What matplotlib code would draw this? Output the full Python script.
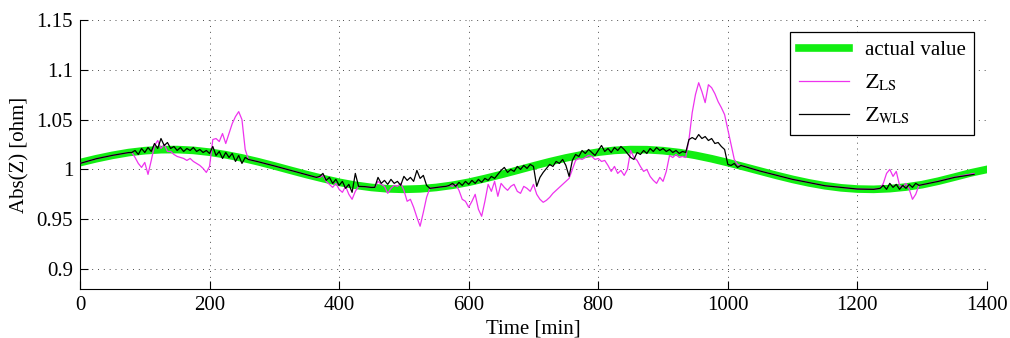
import matplotlib
matplotlib.use("Agg")
import matplotlib.pyplot as plt
import numpy as np

plt.rcParams['font.family'] = ['Liberation Serif', 'DejaVu Serif']
plt.rcParams['mathtext.fontset'] = 'stix'

# true impedance magnitude
t_actual = np.arange(0, 1425, 25)
z_actual = [1.0068, 1.0107, 1.0141, 1.0169, 1.0188, 1.0198, 1.0199, 1.0191, 1.0173, 1.0147,
            1.0115, 1.0077, 1.0035, 0.9991, 0.9948, 0.9908, 0.9871, 0.9841, 0.9819, 0.9805,
            0.9800, 0.9805, 0.9819, 0.9841, 0.9871, 0.9908, 0.9948, 0.9991, 1.0035, 1.0077,
            1.0115, 1.0147, 1.0173, 1.0191, 1.0199, 1.0198, 1.0188, 1.0169, 1.0141, 1.0107,
            1.0068, 1.0026, 0.9983, 0.9940, 0.9900, 0.9865, 0.9836, 0.9815, 0.9803, 0.9800,
            0.9807, 0.9823, 0.9847, 0.9882, 0.9923, 0.9965, 1.0000]

# sample times of the estimates (dense where the estimators disagree)
t_est = np.concatenate([
    [0, 25, 50, 75],
    np.arange(80, 260, 5),
    [260, 275, 300, 325, 350],
    np.arange(365, 435, 5),
    [440, 450],
    np.arange(455, 545, 5),
    [550, 560],
    np.arange(565, 1025, 5),
    [1050, 1100, 1150, 1200, 1225],
    np.arange(1235, 1300, 5),
    [1325, 1350, 1380],
])

z_ls = (
    [1.006, 1.0107, 1.0141, 1.0169]
    + [1.017, 1.012, 1.006, 1.002, 1.007, 0.995, 1.009, 1.024, 1.029, 1.021,
       1.025, 1.018, 1.018, 1.015, 1.013, 1.012, 1.011, 1.009, 1.011, 1.008,
       1.006, 1.004, 1.001, 0.997, 1.003, 1.030, 1.031, 1.028, 1.036, 1.026,
       1.036, 1.046, 1.053, 1.058, 1.050, 1.020]
    + [1.010, 1.0077, 1.0035, 0.9991, 0.9948]
    + [0.992, 0.992, 0.994, 0.988, 0.985, 0.982, 0.986, 0.980, 0.977, 0.983,
       0.975, 0.970, 0.978, 0.983]
    + [0.9827, 0.9819]
    + [0.982, 0.988, 0.985, 0.983, 0.976, 0.981, 0.984, 0.983, 0.986, 0.979,
       0.968, 0.970, 0.962, 0.952, 0.943, 0.957, 0.972, 0.981]
    + [0.9819, 0.9827]
    + [0.983, 0.984, 0.983, 0.985, 0.979, 0.970, 0.968, 0.962, 0.968, 0.975,
       0.960, 0.953, 0.968, 0.985, 0.978, 0.988, 0.973, 0.986, 0.982, 0.979,
       0.983, 0.985, 0.978, 0.976, 0.983, 0.981, 0.978, 0.985, 0.975, 0.970,
       0.967, 0.969, 0.972, 0.976, 0.979, 0.982, 0.985, 0.988, 0.991, 1.000,
       1.009, 1.011, 1.010, 1.012, 1.014, 1.013, 1.010, 1.011, 1.008, 1.009,
       1.004, 0.998, 1.003, 0.996, 0.999, 0.994, 1.000, 1.019, 1.012, 1.009,
       1.003, 0.998, 1.000, 0.993, 0.989, 0.986, 0.992, 0.988, 0.998, 1.014,
       1.012, 1.015, 1.012, 1.013, 1.012, 1.030, 1.057, 1.075, 1.087, 1.078,
       1.067, 1.085, 1.082, 1.076, 1.068, 1.062, 1.055, 1.040, 1.025, 1.010,
       1.005, 1.004]
    + [0.9983, 0.9900, 0.9836, 0.9803, 0.9800]
    + [0.981, 0.986, 0.996, 1.000, 0.993, 0.998, 0.984, 0.982, 0.986, 0.980,
       0.970, 0.975, 0.984]
    + [0.9882, 0.9923, 0.9960]
)

z_wls = (
    [1.006, 1.0107, 1.0141, 1.0169]
    + [1.017, 1.019, 1.015, 1.021, 1.017, 1.022, 1.018, 1.026, 1.021, 1.031,
       1.024, 1.027, 1.021, 1.023, 1.019, 1.022, 1.018, 1.021, 1.019, 1.022,
       1.018, 1.020, 1.017, 1.019, 1.016, 1.023, 1.014, 1.018, 1.011, 1.017,
       1.012, 1.016, 1.008, 1.014, 1.006, 1.012]
    + [1.010, 1.0077, 1.0035, 0.9991, 0.9948]
    + [0.992, 0.993, 0.996, 0.989, 0.992, 0.986, 0.990, 0.984, 0.988, 0.981,
       0.985, 0.977, 0.996, 0.983]
    + [0.9827, 0.9819]
    + [0.982, 0.992, 0.986, 0.989, 0.985, 0.990, 0.986, 0.988, 0.984, 0.993,
       0.989, 0.992, 0.988, 0.999, 0.991, 0.994, 0.984, 0.981]
    + [0.9819, 0.9827]
    + [0.983, 0.984, 0.986, 0.983, 0.987, 0.984, 0.988, 0.985, 0.989, 0.986,
       0.990, 0.987, 0.991, 0.989, 0.993, 0.991, 0.995, 0.999, 1.002, 0.997,
       1.000, 0.998, 1.003, 1.000, 1.004, 1.001, 1.005, 1.003, 0.983, 0.992,
       0.997, 1.001, 1.005, 1.003, 1.008, 1.006, 1.010, 1.004, 0.993, 1.009,
       1.015, 1.013, 1.019, 1.016, 1.020, 1.017, 1.014, 1.019, 1.024, 1.018,
       1.021, 1.017, 1.022, 1.019, 1.023, 1.020, 1.016, 1.012, 1.010, 1.017,
       1.015, 1.019, 1.016, 1.021, 1.018, 1.022, 1.019, 1.021, 1.018, 1.020,
       1.017, 1.019, 1.016, 1.018, 1.017, 1.030, 1.032, 1.030, 1.035, 1.031,
       1.033, 1.029, 1.031, 1.026, 1.027, 1.023, 1.020, 1.005, 1.004, 1.006,
       1.002, 1.004]
    + [0.9983, 0.9900, 0.9836, 0.9803, 0.9800]
    + [0.981, 0.984, 0.980, 0.986, 0.982, 0.985, 0.980, 0.984, 0.981, 0.985,
       0.982, 0.986, 0.984]
    + [0.9880, 0.9920, 0.9950]
)

fig = plt.figure(figsize=(10.1, 3.38), dpi=100)
ax = fig.add_axes([0.0792, 0.145, 0.898, 0.796])

ax.plot(t_actual, z_actual, color='#11ee11', lw=5.5, label='actual value', zorder=2)
ax.plot(t_est, z_ls, color='#ee33ee', lw=0.9, label=r'$\mathrm{Z}_{\mathrm{LS}}$', zorder=3)
ax.plot(t_est, z_wls, color='black', lw=0.9, label=r'$\mathrm{Z}_{\mathrm{WLS}}$', zorder=4)

ax.set_xlim(0, 1400)
ax.set_ylim(0.88, 1.15)
ax.set_xticks(np.arange(0, 1401, 200))
ax.set_yticks([0.9, 0.95, 1.0, 1.05, 1.1, 1.15])
ax.set_yticklabels(['0.9', '0.95', '1', '1.05', '1.1', '1.15'])
ax.tick_params(direction='in', length=6, width=0.8, labelsize=15, pad=5)
ax.grid(True, color='0.3', linestyle=(0, (1, 5)), lw=0.7)
ax.spines['top'].set_visible(False)
ax.spines['right'].set_visible(False)

ax.set_xlabel('Time [min]', fontsize=15, labelpad=3)
ax.set_ylabel('Abs(Z) [ohm]', fontsize=15, labelpad=5)

leg = ax.legend(loc='upper right', fontsize=15, frameon=True, fancybox=False,
                framealpha=1, edgecolor='black', handlelength=2.4,
                labelspacing=0.6, borderaxespad=0.6)
leg.get_frame().set_linewidth(0.9)

plt.savefig('out.png', dpi=100)
